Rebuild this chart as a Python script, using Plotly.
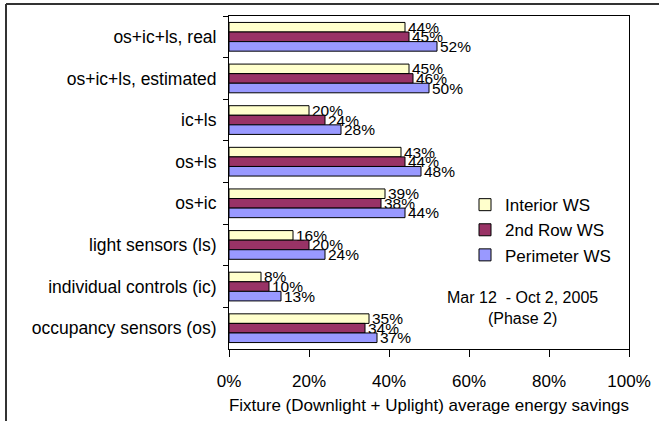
import plotly.graph_objects as go

categories = [
    "os+ic+ls, real",
    "os+ic+ls, estimated",
    "ic+ls",
    "os+ls",
    "os+ic",
    "light sensors (ls)",
    "individual controls (ic)",
    "occupancy sensors (os)",
]
interior_ws = [0.44, 0.45, 0.20, 0.43, 0.39, 0.16, 0.08, 0.35]
second_row_ws = [0.45, 0.46, 0.24, 0.44, 0.38, 0.20, 0.10, 0.34]
perimeter_ws = [0.52, 0.50, 0.28, 0.48, 0.44, 0.24, 0.13, 0.37]

series = [
    ("Interior WS", interior_ws, "#FFFFCC"),
    ("2nd Row WS", second_row_ws, "#993366"),
    ("Perimeter WS", perimeter_ws, "#9999FF"),
]

FONT = "Liberation Sans, Arial, sans-serif"

fig = go.Figure()
for i, (name, vals, color) in enumerate(series):
    fig.add_trace(go.Bar(
        name=name,
        y=categories,
        x=vals,
        orientation="h",
        marker=dict(color=color, line=dict(color="black", width=1)),
        text=[f"{round(v*100)}%" for v in vals],
        textposition="outside",
        textfont=dict(size=15.5, color="black", family=FONT),
        constraintext="none",
        cliponaxis=False,
        legendgroup=f"g{i}",
        hoverinfo="skip",
    ))

fig.update_layout(
    width=659,
    height=421,
    autosize=False,
    margin=dict(l=229, r=30, t=16, b=72, autoexpand=False),
    paper_bgcolor="white",
    plot_bgcolor="white",
    font=dict(family=FONT, size=17, color="black"),
    barmode="group",
    bargap=0.31,
    bargroupgap=0,
    showlegend=True,
    legend=dict(
        x=0.59, y=0.357, xanchor="left", yanchor="middle",
        bgcolor="rgba(0,0,0,0)",
        font=dict(size=17),
        tracegroupgap=11,
        traceorder="normal",
    ),
    xaxis=dict(
        automargin=False,
        range=[0, 1],
        dtick=0.2,
        tickformat=".0%",
        showgrid=False,
        zeroline=False,
        showline=True,
        linecolor="black",
        linewidth=1,
        mirror=True,
        ticks="outside",
        ticklen=7,
        tickcolor="black",
        ticklabelstandoff=10,
        title=dict(text="Fixture (Downlight + Uplight) average energy savings",
                   standoff=8, font=dict(size=17)),
        fixedrange=True,
    ),
    yaxis=dict(
        automargin=False,
        autorange="reversed",
        showgrid=False,
        showline=True,
        linecolor="black",
        linewidth=1,
        mirror=True,
        ticks="outside",
        tickson="boundaries",
        ticklen=5,
        tickcolor="black",
        ticklabelstandoff=8,
        tickfont=dict(size=17.5),
        fixedrange=True,
    ),
    annotations=[
        dict(
            text="Mar 12\u00a0\u00a0- Oct 2, 2005<br>(Phase 2)",
            xref="paper", yref="paper",
            x=0.7325, y=0.123, xanchor="center", yanchor="middle",
            showarrow=False, align="center",
            font=dict(size=16, family=FONT),
        )
    ],
    shapes=[
        dict(type="line", xref="paper", yref="paper",
             x0=(6 - 229) / 400, x1=(659 - 229) / 400,
             y0=(349 - 4) / 333, y1=(349 - 4) / 333,
             line=dict(color="#333333", width=2)),
        dict(type="line", xref="paper", yref="paper",
             x0=(6 - 229) / 400, x1=(6 - 229) / 400,
             y0=(349 - 4) / 333, y1=(349 - 425) / 333,
             line=dict(color="#333333", width=2)),
    ],
)

fig.write_html(
    "out.html",
    config={"displayModeBar": False, "staticPlot": True},
    post_script="document.body.style.margin='0';document.body.style.overflow='hidden';",
)
